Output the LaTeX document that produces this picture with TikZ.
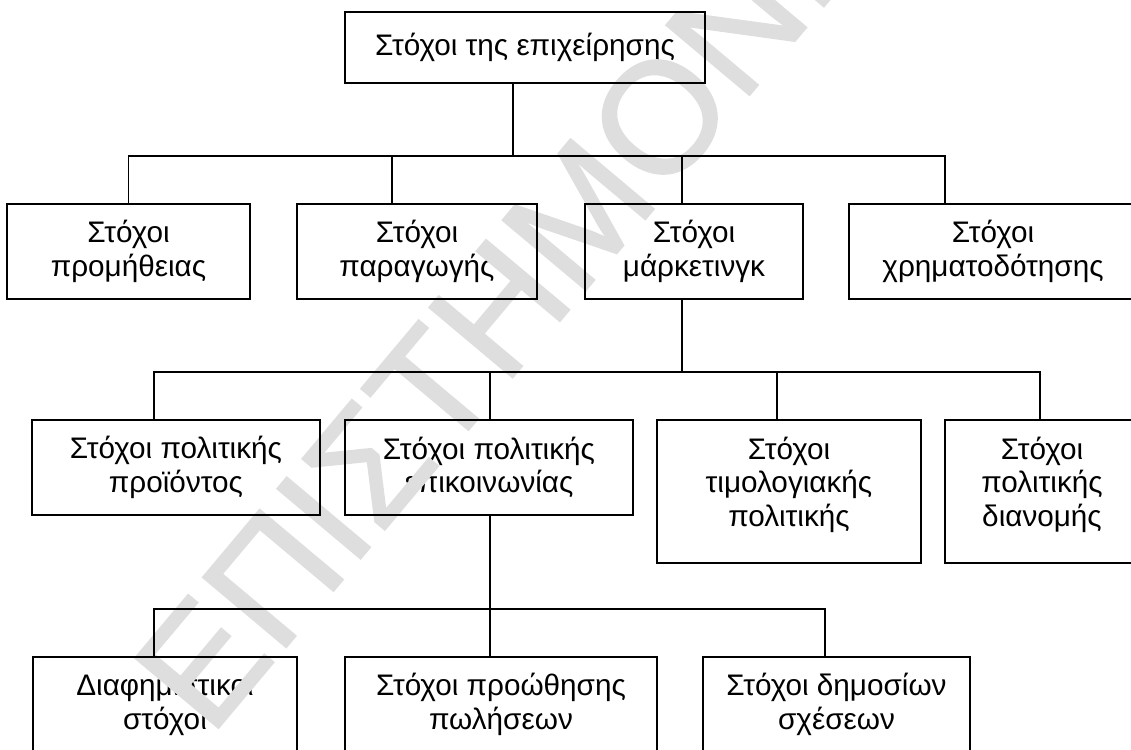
\documentclass[tikz,border=0pt]{standalone}
\usepackage{fontspec}
\setmainfont{Liberation Sans}
\newfontfamily\wmfont[FakeBold=1.2]{Liberation Sans}
\begin{document}
\begin{tikzpicture}[x=1pt,y=-1pt,
  box/.style={draw=none, inner sep=0pt, align=center, minimum height=95pt,
    font=\fontsize{29.7}{33.5}\selectfont},
  border/.style={draw=black, line width=2pt},
  conn/.style={draw=black, line width=1.6pt},
  wm/.style={text={rgb,255:red,222;green,222;blue,222}, inner sep=0pt,
    font=\wmfont\fontsize{158}{158}\selectfont}]
\useasboundingbox (0,0) rectangle (1131,749);
% level 0
\node[box, minimum width=360pt, minimum height=71pt] (top) at (525,47.5) {Στόχοι της επιχείρησης};
% level 1
\node[box, minimum width=243pt] (p1) at (128.5,251.5) {Στόχοι\\προμήθειας};
\node[box, minimum width=240pt] (p2) at (417,251.5) {Στόχοι\\παραγωγής};
\node[box, minimum width=218pt] (p3) at (694,251.5) {Στόχοι\\μάρκετινγκ};
\node[box, minimum width=288pt] (p4) at (993,251.5) {Στόχοι\\χρηματοδότησης};
% level 2
\node[box, minimum width=288pt] (m1) at (176,467.5) {Στόχοι πολιτικής\\προϊόντος};
\node[box, minimum width=288pt] (m2) at (489,467.5) {Στόχοι πολιτικής\\επικοινωνίας};
\node[box, minimum width=264pt, minimum height=143pt, text depth=20pt] (m3) at (789,491.5) {Στόχοι\\τιμολογιακής\\πολιτικής};
\node[box, minimum width=194pt, minimum height=143pt, text depth=20pt] (m4) at (1042,491.5) {Στόχοι\\πολιτικής\\διανομής};
% level 3
\node[box, minimum width=264pt] (c1) at (165,704.5) {Διαφημιστικοί\\στόχοι};
\node[box, minimum width=312pt] (c2) at (501,704.5) {Στόχοι προώθησης\\πωλήσεων};
\node[box, minimum width=267pt] (c3) at (836.5,704.5) {Στόχοι δημοσίων\\σχέσεων};
% watermark
\node[wm, rotate=50, anchor=base west] (wmark) at (210,738) {ΕΠΙΣΤΗΜΟΝΙΚΟ};
% borders
\foreach \n in {top,p1,p2,p3,p4,m1,m2,m3,m4,c1,c2,c3}
  \draw[border] (\n.south west) rectangle (\n.north east);
% connectors
\coordinate (j1) at (513,156);
\coordinate (j2) at (682,372);
\coordinate (j3) at (490,609);
\draw[conn] (top.south -| j1) -- (j1);
\draw[conn] (p1.north) |- (j1);
\draw[conn] ([xshift=-25pt]p2.north) |- (j1);
\draw[conn] ([xshift=-12pt]p3.north) |- (j1);
\draw[conn] ([xshift=-48pt]p4.north) |- (j1);
\draw[conn] (p3.south -| j2) -- (j2);
\draw[conn] ([xshift=-22pt]m1.north) |- (j2);
\draw[conn] ([xshift=1pt]m2.north) |- (j2);
\draw[conn] ([xshift=-12pt]m3.north) |- (j2);
\draw[conn] ([xshift=-2pt]m4.north) |- (j2);
\draw[conn] (m2.south -| j3) -- (j3);
\draw[conn] ([xshift=-11pt]c1.north) |- (j3);
\draw[conn] ([xshift=-11pt]c2.north) |- (j3);
\draw[conn] ([xshift=-11.5pt]c3.north) |- (j3);
\end{tikzpicture}
\end{document}
